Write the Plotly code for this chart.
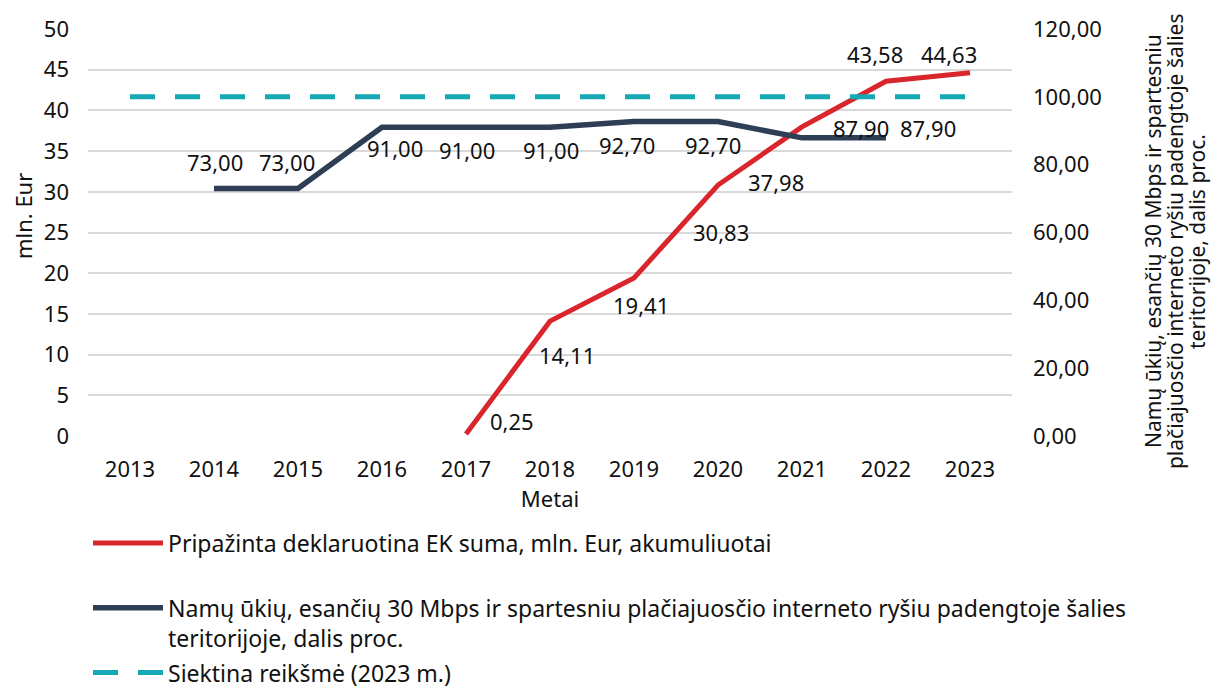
import plotly.graph_objects as go

# data
years = ['2013', '2014', '2015', '2016', '2017', '2018', '2019', '2020', '2021', '2022', '2023']

ek_years = ['2017', '2018', '2019', '2020', '2021', '2022', '2023']
ek_sum = [0.25, 14.11, 19.41, 30.83, 37.98, 43.58, 44.63]

cov_years = ['2014', '2015', '2016', '2017', '2018', '2019', '2020', '2021', '2022']
coverage = [73.00, 73.00, 91.00, 91.00, 91.00, 92.70, 92.70, 87.90, 87.90]

target_years = years
target = [100] * len(target_years)

right_title = ['Namų ūkių, esančių 30 Mbps ir spartesniu',
               'plačiajuosčio interneto ryšiu padengtoje šalies',
               'teritorijoje, dalis proc.']

RED = '#D9262D'
NAVY = '#2D3E55'
TEAL = '#15A9B4'
FONT = 'Noto Sans'
TXT = '#111111'
FS = 22

# label offsets in pixels (style only)
ek_shift = [(46, 13), (17, -34), (7, -27), (3, -47), (-26, -55), (-11, 27), (-21, 19)]
cov_shift = [(1, 26), (-11, 26), (13, -21), (1, -23), (1, -23), (-7, -23), (-5, -23), (59, 10), (42, 10)]


def fmt(v):
    return f'{v:.2f}'.replace('.', ',')


fig = go.Figure()

fig.add_trace(go.Scatter(
    x=ek_years, y=ek_sum, mode='lines',
    name='Pripažinta deklaruotina EK suma, mln. Eur, akumuliuotai<br>&nbsp;',
    line=dict(color=RED, width=5),
    legendgroup='a'
))

fig.add_trace(go.Scatter(
    x=cov_years, y=coverage, mode='lines', yaxis='y2',
    name='Namų ūkių, esančių 30 Mbps ir spartesniu plačiajuosčio interneto ryšiu padengtoje šalies<br>teritorijoje, dalis proc.',
    line=dict(color=NAVY, width=5.5),
    legendgroup='b'
))

fig.add_trace(go.Scatter(
    x=target_years, y=target, mode='lines', yaxis='y2',
    name='Siektina reikšmė (2023 m.)',
    line=dict(color=TEAL, width=5, dash='25px,20px'),
    legendgroup='c'
))

# category axes take annotation x as the category index
annotations = []
for x, v, (dx, dy) in zip(ek_years, ek_sum, ek_shift):
    annotations.append(dict(x=years.index(x), y=v, xref='x', yref='y', text=fmt(v), showarrow=False,
                            xshift=dx, yshift=dy, font=dict(family=FONT, size=FS, color=TXT)))
for x, v, (dx, dy) in zip(cov_years, coverage, cov_shift):
    annotations.append(dict(x=years.index(x), y=v, xref='x', yref='y2', text=fmt(v), showarrow=False,
                            xshift=dx, yshift=dy, font=dict(family=FONT, size=FS, color=TXT)))

# axis titles as rotated annotations (tighter line spacing like the original)
annotations.append(dict(x=-0.0705, y=0.54, xref='paper', yref='paper', text='mln. Eur',
                        xanchor='center', yanchor='middle',
                        textangle=-90, showarrow=False, font=dict(family=FONT, size=FS, color=TXT)))
for i, line in enumerate(right_title):
    annotations.append(dict(x=1.1526 + i * 0.0238, y=0.479, xref='paper', yref='paper', text=line,
                            xanchor='center', yanchor='middle',
                            textangle=-90, showarrow=False, font=dict(family=FONT, size=21, color=TXT)))

fig.update_layout(
    width=1219, height=688,
    paper_bgcolor='white', plot_bgcolor='white',
    font=dict(family=FONT, size=FS, color=TXT),
    separators=', ',
    margin=dict(l=80, r=215, t=21, b=260, autoexpand=False),
    showlegend=True,
    legend=dict(
        x=0.0, y=-0.21, xanchor='left', yanchor='top',
        orientation='v', valign='top', tracegroupgap=2, itemwidth=70,
        font=dict(family=FONT, size=23, color=TXT),
        bgcolor='rgba(0,0,0,0)'
    ),
    xaxis=dict(
        type='category', categoryorder='array', categoryarray=years,
        range=[-0.5, 10.5], showgrid=False, zeroline=False, automargin=False,
        showline=False, ticks='', ticklabelstandoff=18,
        title=dict(text='Metai', standoff=5, font=dict(size=FS))
    ),
    yaxis=dict(
        range=[0, 50], dtick=5, showgrid=True, gridcolor='#D9D9D9', gridwidth=1.5,
        zeroline=False, showline=False, ticks='', ticklabelstandoff=18, automargin=False
    ),
    yaxis2=dict(
        range=[0, 120], dtick=20, overlaying='y', side='right',
        tickformat='.2f', showgrid=False, zeroline=False, showline=False,
        ticks='', ticklabelstandoff=20, automargin=False
    ),
    annotations=annotations
)

fig.write_html('out.html')
